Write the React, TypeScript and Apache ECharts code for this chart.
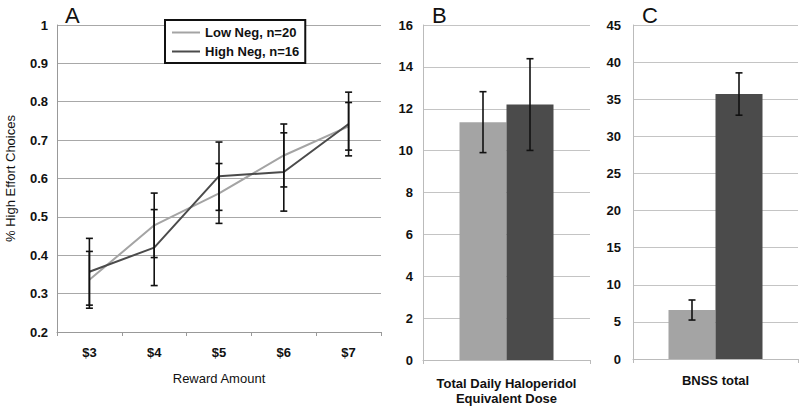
import React, { useEffect, useRef } from "react";
import * as echarts from "echarts";

const categoriesA = ["$3", "$4", "$5", "$6", "$7"];
const lowNeg = [0.336, 0.478, 0.561, 0.66, 0.736];
const lowNegErr = [0.074, 0.084, 0.078, 0.082, 0.062];
const highNeg = [0.357, 0.42, 0.606, 0.617, 0.742];
const highNegErr = [0.087, 0.099, 0.089, 0.102, 0.083];
const yTicksA = { min: 0.2, max: 1, interval: 0.1 };

const doseValues = [11.36, 12.2];
const doseErr = [1.455, 2.19];
const bnssValues = [6.6, 35.7];
const bnssErr = [1.35, 2.85];
const seriesNames = ["Low Neg, n=20", "High Neg, n=16"];

const LIGHT = "#a4a4a4";
const DARK = "#4b4b4b";
const FONT = "Liberation Sans, Arial, sans-serif";
const BAR_W = 47;

function errRender(offsets: number[]) {
  return (params: any, api: any) => {
    const x = api.value(0);
    const v = api.value(1);
    const e = api.value(2);
    const k = api.value(3);
    const off = offsets[k] || 0;
    const t = api.coord([x, v + e]);
    const b = api.coord([x, v - e]);
    const cx = t[0] + off;
    const cap = 3.5;
    const style = { stroke: "#111", lineWidth: 1.6 };
    return {
      type: "group",
      children: [
        { type: "line", shape: { x1: cx, y1: t[1], x2: cx, y2: b[1] }, style },
        { type: "line", shape: { x1: cx - cap, y1: t[1], x2: cx + cap, y2: t[1] }, style },
        { type: "line", shape: { x1: cx - cap, y1: b[1], x2: cx + cap, y2: b[1] }, style },
      ],
    };
  };
}

export default function App() {
  const ref = useRef<HTMLDivElement>(null);
  useEffect(() => {
    if (!ref.current) return;
    const chart = echarts.init(ref.current, null, { renderer: "svg" });
    const tickLabel = { fontFamily: FONT, fontWeight: "bold" as const, fontSize: 13, color: "#111" };
    const errA: any[] = [];
    categoriesA.forEach((_, i) => {
      errA.push([i, lowNeg[i], lowNegErr[i], 0]);
      errA.push([i, highNeg[i], highNegErr[i], 0]);
    });
    const option: any = {
      animation: false,
      backgroundColor: "#fff",
      textStyle: { fontFamily: FONT },
      grid: [
        { left: 57, top: 25, width: 324, height: 307 },
        { left: 423, top: 25, width: 167, height: 341 },
        { left: 633, top: 25, width: 165, height: 334 },
      ],
      legend: {
        data: seriesNames,
        orient: "vertical",
        left: 165,
        top: 20,
        width: 137,
        padding: [6, 6, 5, 6],
        itemGap: 6,
        itemWidth: 28,
        itemHeight: 14,
        borderColor: "#111",
        borderWidth: 2,
        backgroundColor: "#fff",
        itemStyle: { opacity: 0 },
        textStyle: { fontFamily: FONT, fontWeight: "bold", fontSize: 13, color: "#111" },
        z: 10,
      },
      graphic: [
        { type: "text", left: 65, top: 4, style: { text: "A", font: `22px ${FONT}`, fill: "#111" } },
        { type: "text", left: 432, top: 4, style: { text: "B", font: `22px ${FONT}`, fill: "#111" } },
        { type: "text", left: 642, top: 4, style: { text: "C", font: `22px ${FONT}`, fill: "#111" } },
      ],
      xAxis: [
        {
          type: "category",
          gridIndex: 0,
          data: categoriesA,
          boundaryGap: true,
          axisLine: { lineStyle: { color: "#999" } },
          axisTick: { show: true, lineStyle: { color: "#999" }, length: 4 },
          axisLabel: { ...tickLabel, margin: 14 },
          name: "Reward Amount",
          nameLocation: "middle",
          nameGap: 40,
          nameTextStyle: { fontFamily: FONT, fontSize: 13, color: "#111" },
        },
        {
          type: "category",
          gridIndex: 1,
          data: [""],
          axisLine: { lineStyle: { color: "#bbb" } },
          axisTick: { show: true, lineStyle: { color: "#bbb" }, length: 4 },
          axisLabel: { show: false },
          name: "Total Daily Haloperidol\nEquivalent Dose",
          nameLocation: "middle",
          nameGap: 16,
          nameTextStyle: { fontFamily: FONT, fontWeight: "bold", fontSize: 13, color: "#111", lineHeight: 15, verticalAlign: "top" },
        },
        {
          type: "category",
          gridIndex: 2,
          data: [""],
          axisLine: { lineStyle: { color: "#bbb" } },
          axisTick: { show: true, lineStyle: { color: "#bbb" }, length: 4 },
          axisLabel: { show: false },
          name: "BNSS total",
          nameLocation: "middle",
          nameGap: 15,
          nameTextStyle: { fontFamily: FONT, fontWeight: "bold", fontSize: 13, color: "#111", verticalAlign: "top" },
        },
      ],
      yAxis: [
        {
          type: "value",
          gridIndex: 0,
          min: yTicksA.min,
          max: yTicksA.max,
          interval: yTicksA.interval,
          axisLine: { show: true, lineStyle: { color: "#999" } },
          axisTick: { show: false },
          axisLabel: { ...tickLabel, margin: 9, formatter: (v: number) => String(Math.round(v * 10) / 10) },
          splitLine: { lineStyle: { color: "#a8a8a8" } },
          name: "% High Effort Choices",
          nameLocation: "middle",
          nameGap: 40,
          nameRotate: 90,
          nameTextStyle: { fontFamily: FONT, fontSize: 13, color: "#111" },
        },
        {
          type: "value",
          gridIndex: 1,
          min: 0,
          max: 16,
          interval: 2,
          axisLine: { show: true, lineStyle: { color: "#bbb" } },
          axisTick: { show: false },
          axisLabel: { ...tickLabel, margin: 10 },
          splitLine: { lineStyle: { color: "#c4c4c4" } },
        },
        {
          type: "value",
          gridIndex: 2,
          min: 0,
          max: 45,
          interval: 5,
          axisLine: { show: true, lineStyle: { color: "#bbb" } },
          axisTick: { show: false },
          axisLabel: { ...tickLabel, margin: 12 },
          splitLine: { lineStyle: { color: "#c4c4c4" } },
        },
      ],
      series: [
        {
          name: seriesNames[0],
          type: "line",
          xAxisIndex: 0,
          yAxisIndex: 0,
          data: lowNeg,
          symbol: "none",
          lineStyle: { color: LIGHT, width: 2 },
          itemStyle: { color: LIGHT },
          z: 3,
        },
        {
          name: seriesNames[1],
          type: "line",
          xAxisIndex: 0,
          yAxisIndex: 0,
          data: highNeg,
          symbol: "none",
          lineStyle: { color: DARK, width: 2 },
          itemStyle: { color: DARK },
          z: 3,
        },
        {
          type: "custom",
          xAxisIndex: 0,
          yAxisIndex: 0,
          data: errA,
          encode: { x: 0, y: 1 },
          renderItem: errRender([0]),
          z: 5,
          silent: true,
        },
        {
          type: "bar",
          xAxisIndex: 1,
          yAxisIndex: 1,
          data: [doseValues[0]],
          barWidth: BAR_W,
          barGap: "0%",
          itemStyle: { color: LIGHT },
        },
        {
          type: "bar",
          xAxisIndex: 1,
          yAxisIndex: 1,
          data: [doseValues[1]],
          barWidth: BAR_W,
          barGap: "0%",
          itemStyle: { color: DARK },
        },
        {
          type: "custom",
          xAxisIndex: 1,
          yAxisIndex: 1,
          data: [
            [0, doseValues[0], doseErr[0], 0],
            [0, doseValues[1], doseErr[1], 1],
          ],
          encode: { x: 0, y: 1 },
          renderItem: errRender([-BAR_W / 2, BAR_W / 2]),
          z: 5,
          silent: true,
        },
        {
          type: "bar",
          xAxisIndex: 2,
          yAxisIndex: 2,
          data: [bnssValues[0]],
          barWidth: BAR_W,
          barGap: "0%",
          itemStyle: { color: LIGHT },
        },
        {
          type: "bar",
          xAxisIndex: 2,
          yAxisIndex: 2,
          data: [bnssValues[1]],
          barWidth: BAR_W,
          barGap: "0%",
          itemStyle: { color: DARK },
        },
        {
          type: "custom",
          xAxisIndex: 2,
          yAxisIndex: 2,
          data: [
            [0, bnssValues[0], bnssErr[0], 0],
            [0, bnssValues[1], bnssErr[1], 1],
          ],
          encode: { x: 0, y: 1 },
          renderItem: errRender([-BAR_W / 2, BAR_W / 2]),
          z: 5,
          silent: true,
        },
      ],
    };
    chart.setOption(option);
    return () => chart.dispose();
  }, []);
  return <div ref={ref} style={{ width: 800, height: 411, position: "absolute", left: 0, top: 0 }} />;
}
